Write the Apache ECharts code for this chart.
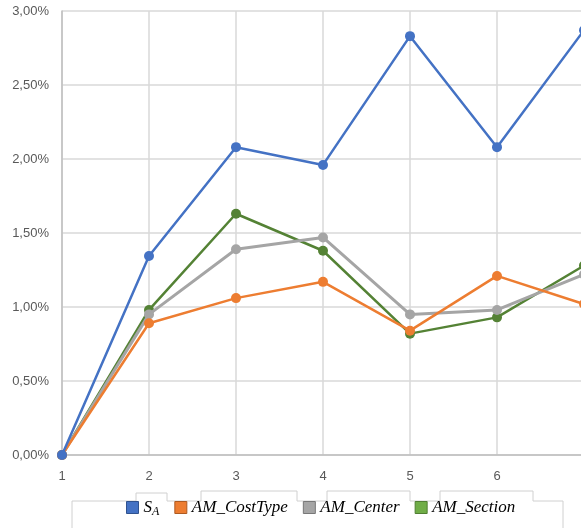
<!DOCTYPE html>
<html><head><meta charset="utf-8">
<script src="https://cdn.jsdelivr.net/npm/echarts@6/dist/echarts.min.js"></script>
<style>html,body{margin:0;padding:0;background:#fff}#c{width:581px;height:528px}</style>
</head><body><div id="c"></div>
<script>
var categories = ['1','2','3','4','5','6','7'];
var seriesNames = ['S_A','AM_CostType','AM_Center','AM_Section'];
var sA = [0, 1.345, 2.08, 1.96, 2.83, 2.08, 2.87];
var amCostType = [0, 0.89, 1.06, 1.17, 0.84, 1.21, 1.02];
var amCenter = [0, 0.95, 1.39, 1.47, 0.95, 0.98, 1.22];
var amSection = [0, 0.98, 1.63, 1.38, 0.82, 0.93, 1.28];
var yTicks = [0, 0.5, 1, 1.5, 2, 2.5, 3];

var lineColors = ['#4472C4','#ED7D31','#A5A5A5','#548235'];
var legendFill = ['#4472C4','#ED7D31','#A5A5A5','#70AD47'];
var legendBorder = ['#2F528F','#AE5A21','#787878','#507E32'];
var values = [sA, amCostType, amCenter, amSection];

var chart = echarts.init(document.getElementById('c'));
var series = seriesNames.map(function(n,i){
  return {
    name:n, type:'line', data:values[i], symbol:'circle', symbolSize:10,
    lineStyle:{width:i===2?3:2.5,color:lineColors[i]},
    itemStyle:{color:lineColors[i]},
    z: 10 - i
  };
});
chart.setOption({
  animation:false,
  grid:{left:62,top:11,right:-3,bottom:73,containLabel:false,outerBoundsMode:'none'},
  legend:{
    left:126, top:499, padding:0, itemWidth:12, itemHeight:12, itemGap:15, icon:'rect',
    data: seriesNames.map(function(n,i){return {name:n,itemStyle:{color:legendFill[i],borderColor:legendBorder[i],borderWidth:1}};}),
    formatter:function(n){ return n==='S_A' ? '{i|S}{s|A}' : '{i|'+n+'}'; },
    textStyle:{
      rich:{
        i:{fontFamily:'Liberation Serif',fontStyle:'italic',fontSize:17,color:'#000'},
        s:{fontFamily:'Liberation Serif',fontStyle:'italic',fontSize:12,color:'#000',padding:[8,0,0,0]}
      }
    }
  },
  xAxis:{
    type:'category', data:categories, boundaryGap:false,
    axisLine:{lineStyle:{color:'#BFBFBF',width:1.5}},
    axisTick:{show:false},
    axisLabel:{color:'#595959',fontSize:13,fontFamily:'Liberation Sans',margin:15},
    splitLine:{show:true,lineStyle:{color:'#D9D9D9',width:1.5}}
  },
  yAxis:{
    type:'value', min:0, max:3, interval:0.5,
    axisLine:{show:true,lineStyle:{color:'#BFBFBF',width:1.5}},
    axisTick:{show:false},
    axisLabel:{color:'#595959',fontSize:13,fontFamily:'Liberation Sans',margin:13,
      formatter:function(v){return v.toFixed(2).replace('.',',')+'%';}},
    splitLine:{lineStyle:{color:'#D9D9D9',width:1.5}}
  },
  graphic:[
    {type:'polyline',silent:true,shape:{points:[[72,528],[72,501],[136,501],[136,493],[167,493],[167,501],[201,501],[201,491],[297,491],[297,501],[327,501],[327,491],[410,491],[410,501],[440,501],[440,491],[533,491],[533,501],[563,501],[563,528]]},style:{stroke:'#D0D0D0',fill:null,lineWidth:1},z:-1}
  ],
  series:series
});
</script></body></html>
